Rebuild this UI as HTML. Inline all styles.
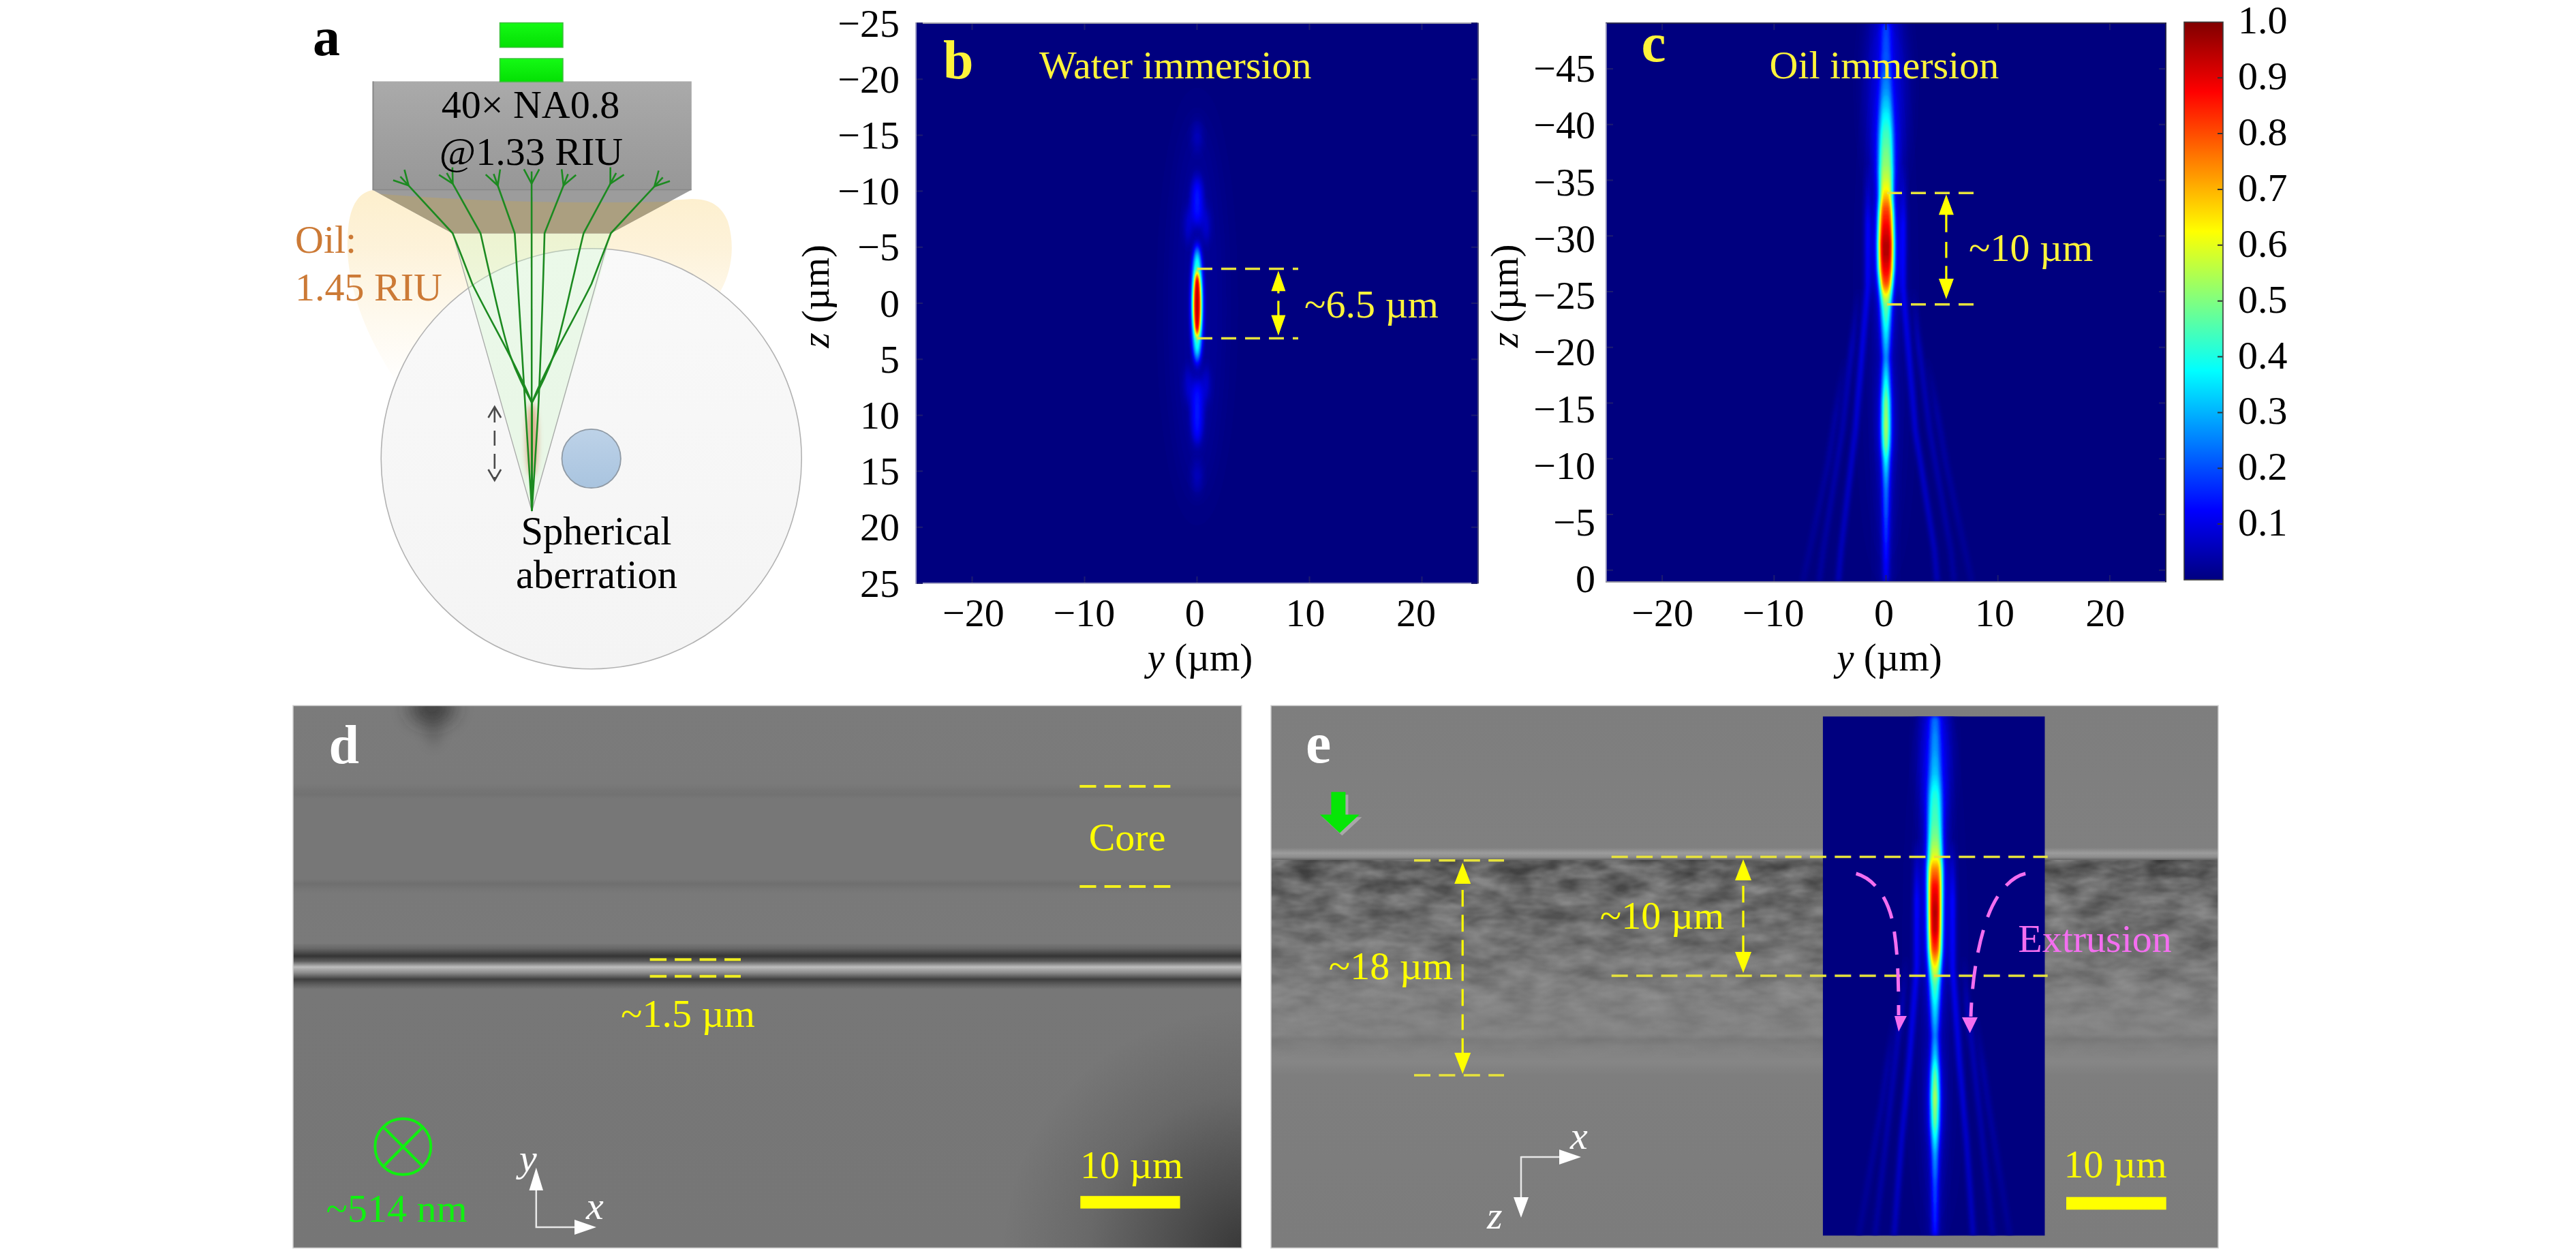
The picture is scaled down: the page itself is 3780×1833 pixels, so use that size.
<!DOCTYPE html>
<html><head><meta charset="utf-8"><title>Figure</title>
<style>html,body{margin:0;padding:0;background:#fff;width:3780px;height:1833px;overflow:hidden}svg{display:block}text{font-family:'Liberation Serif',serif}</style>
</head><body>
<svg width="3780" height="1833" viewBox="0 0 3780 1833">
<defs><linearGradient id="oilg" x1="0" y1="280" x2="0" y2="570" gradientUnits="userSpaceOnUse">
<stop offset="0" stop-color="#fdefcd" stop-opacity="1"/><stop offset="0.3" stop-color="#fdf1d6" stop-opacity="0.9"/><stop offset="0.6" stop-color="#fdf3dc" stop-opacity="0.55"/><stop offset="1" stop-color="#fdf3dc" stop-opacity="0"/></linearGradient><linearGradient id="objg" x1="0" y1="119" x2="0" y2="279" gradientUnits="userSpaceOnUse">
<stop offset="0" stop-color="#aaaaaa"/><stop offset="1" stop-color="#979797"/></linearGradient><linearGradient id="bcg" x1="0" y1="365" x2="0" y2="982" gradientUnits="userSpaceOnUse">
<stop offset="0" stop-color="#f9f9f9"/><stop offset="1" stop-color="#f4f4f4"/></linearGradient><linearGradient id="scg" x1="0" y1="630" x2="0" y2="716" gradientUnits="userSpaceOnUse">
<stop offset="0" stop-color="#bdd2e8"/><stop offset="1" stop-color="#a9c4df"/></linearGradient><linearGradient id="grg" x1="0" y1="0" x2="0" y2="1"><stop offset="0" stop-color="#14fa14"/><stop offset="1" stop-color="#04e004"/></linearGradient><filter id="blur4" x="-50%" y="-50%" width="200%" height="200%"><feGaussianBlur stdDeviation="4"/></filter><clipPath id="trapclip"><polygon points="546.6,278.5 1014.8,278.5 896,342.5 664,342.5"/></clipPath><filter id="jb" filterUnits="userSpaceOnUse" x="1344" y="34" width="825" height="822" color-interpolation-filters="sRGB"><feComponentTransfer><feFuncR type="table" tableValues="0.000 0.000 0.000 0.000 0.000 0.000 0.000 0.000 0.000 0.000 0.000 0.000 0.000 0.000 0.000 0.000 0.000 0.000 0.000 0.000 0.000 0.000 0.000 0.000 0.000 0.062 0.125 0.188 0.250 0.312 0.375 0.438 0.500 0.562 0.625 0.688 0.750 0.812 0.875 0.938 1.000 1.000 1.000 1.000 1.000 1.000 1.000 1.000 1.000 1.000 1.000 1.000 1.000 1.000 1.000 1.000 1.000 0.938 0.875 0.812 0.750 0.688 0.625 0.562 0.500"/><feFuncG type="table" tableValues="0.000 0.000 0.000 0.000 0.000 0.000 0.000 0.000 0.000 0.062 0.125 0.188 0.250 0.312 0.375 0.438 0.500 0.562 0.625 0.688 0.750 0.812 0.875 0.938 1.000 1.000 1.000 1.000 1.000 1.000 1.000 1.000 1.000 1.000 1.000 1.000 1.000 1.000 1.000 1.000 1.000 0.938 0.875 0.812 0.750 0.688 0.625 0.562 0.500 0.438 0.375 0.312 0.250 0.188 0.125 0.062 0.000 0.000 0.000 0.000 0.000 0.000 0.000 0.000 0.000"/><feFuncB type="table" tableValues="0.500 0.562 0.625 0.688 0.750 0.812 0.875 0.938 1.000 1.000 1.000 1.000 1.000 1.000 1.000 1.000 1.000 1.000 1.000 1.000 1.000 1.000 1.000 1.000 1.000 0.938 0.875 0.812 0.750 0.688 0.625 0.562 0.500 0.438 0.375 0.312 0.250 0.188 0.125 0.062 0.000 0.000 0.000 0.000 0.000 0.000 0.000 0.000 0.000 0.000 0.000 0.000 0.000 0.000 0.000 0.000 0.000 0.000 0.000 0.000 0.000 0.000 0.000 0.000 0.000"/></feComponentTransfer></filter><filter id="bl0" x="-100%" y="-100%" width="300%" height="300%" color-interpolation-filters="sRGB"><feGaussianBlur stdDeviation="15 40"/></filter><filter id="bl1" x="-100%" y="-100%" width="300%" height="300%" color-interpolation-filters="sRGB"><feGaussianBlur stdDeviation="5 10"/></filter><filter id="bl2" x="-100%" y="-100%" width="300%" height="300%" color-interpolation-filters="sRGB"><feGaussianBlur stdDeviation="4 10"/></filter><filter id="bl3" x="-100%" y="-100%" width="300%" height="300%" color-interpolation-filters="sRGB"><feGaussianBlur stdDeviation="2 6"/></filter><filter id="bl4" x="-100%" y="-100%" width="300%" height="300%" color-interpolation-filters="sRGB"><feGaussianBlur stdDeviation="3 11"/></filter><filter id="jc" filterUnits="userSpaceOnUse" x="2357" y="34" width="821" height="820" color-interpolation-filters="sRGB"><feComponentTransfer><feFuncR type="table" tableValues="0.000 0.000 0.000 0.000 0.000 0.000 0.000 0.000 0.000 0.000 0.000 0.000 0.000 0.000 0.000 0.000 0.000 0.000 0.000 0.000 0.000 0.000 0.000 0.000 0.000 0.062 0.125 0.188 0.250 0.312 0.375 0.438 0.500 0.562 0.625 0.688 0.750 0.812 0.875 0.938 1.000 1.000 1.000 1.000 1.000 1.000 1.000 1.000 1.000 1.000 1.000 1.000 1.000 1.000 1.000 1.000 1.000 0.938 0.875 0.812 0.750 0.688 0.625 0.562 0.500"/><feFuncG type="table" tableValues="0.000 0.000 0.000 0.000 0.000 0.000 0.000 0.000 0.000 0.062 0.125 0.188 0.250 0.312 0.375 0.438 0.500 0.562 0.625 0.688 0.750 0.812 0.875 0.938 1.000 1.000 1.000 1.000 1.000 1.000 1.000 1.000 1.000 1.000 1.000 1.000 1.000 1.000 1.000 1.000 1.000 0.938 0.875 0.812 0.750 0.688 0.625 0.562 0.500 0.438 0.375 0.312 0.250 0.188 0.125 0.062 0.000 0.000 0.000 0.000 0.000 0.000 0.000 0.000 0.000"/><feFuncB type="table" tableValues="0.500 0.562 0.625 0.688 0.750 0.812 0.875 0.938 1.000 1.000 1.000 1.000 1.000 1.000 1.000 1.000 1.000 1.000 1.000 1.000 1.000 1.000 1.000 1.000 1.000 0.938 0.875 0.812 0.750 0.688 0.625 0.562 0.500 0.438 0.375 0.312 0.250 0.188 0.125 0.062 0.000 0.000 0.000 0.000 0.000 0.000 0.000 0.000 0.000 0.000 0.000 0.000 0.000 0.000 0.000 0.000 0.000 0.000 0.000 0.000 0.000 0.000 0.000 0.000 0.000"/></feComponentTransfer></filter><linearGradient id="cpc" x1="0" y1="34" x2="0" y2="854" gradientUnits="userSpaceOnUse"><stop offset="0.0000" stop-color="rgb(23,23,23)"/><stop offset="0.0805" stop-color="rgb(27,27,27)"/><stop offset="0.1171" stop-color="rgb(36,36,36)"/><stop offset="0.1500" stop-color="rgb(50,50,50)"/><stop offset="0.1915" stop-color="rgb(69,69,69)"/><stop offset="0.2537" stop-color="rgb(90,90,90)"/><stop offset="0.2780" stop-color="rgb(105,105,105)"/><stop offset="0.2976" stop-color="rgb(121,121,121)"/><stop offset="0.3146" stop-color="rgb(142,142,142)"/><stop offset="0.3317" stop-color="rgb(163,163,163)"/><stop offset="0.3610" stop-color="rgb(180,180,180)"/><stop offset="0.3939" stop-color="rgb(194,194,194)"/><stop offset="0.4159" stop-color="rgb(194,194,194)"/><stop offset="0.4463" stop-color="rgb(178,178,178)"/><stop offset="0.4671" stop-color="rgb(163,163,163)"/><stop offset="0.4805" stop-color="rgb(138,138,138)"/><stop offset="0.4915" stop-color="rgb(117,117,117)"/><stop offset="0.5073" stop-color="rgb(96,96,96)"/><stop offset="0.5561" stop-color="rgb(73,73,73)"/><stop offset="0.5988" stop-color="rgb(56,56,56)"/><stop offset="0.6415" stop-color="rgb(82,82,82)"/><stop offset="0.6780" stop-color="rgb(105,105,105)"/><stop offset="0.7195" stop-color="rgb(115,115,115)"/><stop offset="0.7573" stop-color="rgb(105,105,105)"/><stop offset="0.7817" stop-color="rgb(82,82,82)"/><stop offset="0.8366" stop-color="rgb(56,56,56)"/><stop offset="0.9341" stop-color="rgb(38,38,38)"/><stop offset="1.0000" stop-color="rgb(29,29,29)"/></linearGradient><linearGradient id="lb0c" x1="0" y1="240" x2="0" y2="854" gradientUnits="userSpaceOnUse"><stop offset="0" stop-color="rgb(0,0,0)"/><stop offset="0.147" stop-color="rgb(38,38,38)"/><stop offset="1" stop-color="rgb(19,19,19)"/></linearGradient><filter id="bl5" x="-100%" y="-100%" width="300%" height="300%" color-interpolation-filters="sRGB"><feGaussianBlur stdDeviation="3 3"/></filter><linearGradient id="lb1c" x1="0" y1="240" x2="0" y2="854" gradientUnits="userSpaceOnUse"><stop offset="0" stop-color="rgb(0,0,0)"/><stop offset="0.147" stop-color="rgb(38,38,38)"/><stop offset="1" stop-color="rgb(19,19,19)"/></linearGradient><linearGradient id="lb2c" x1="0" y1="420" x2="0" y2="854" gradientUnits="userSpaceOnUse"><stop offset="0" stop-color="rgb(0,0,0)"/><stop offset="0.207" stop-color="rgb(19,19,19)"/><stop offset="1" stop-color="rgb(10,10,10)"/></linearGradient><linearGradient id="lb3c" x1="0" y1="420" x2="0" y2="854" gradientUnits="userSpaceOnUse"><stop offset="0" stop-color="rgb(0,0,0)"/><stop offset="0.207" stop-color="rgb(19,19,19)"/><stop offset="1" stop-color="rgb(10,10,10)"/></linearGradient><linearGradient id="lb4c" x1="0" y1="520" x2="0" y2="854" gradientUnits="userSpaceOnUse"><stop offset="0" stop-color="rgb(0,0,0)"/><stop offset="0.269" stop-color="rgb(11,11,11)"/><stop offset="1" stop-color="rgb(6,6,6)"/></linearGradient><linearGradient id="lb5c" x1="0" y1="520" x2="0" y2="854" gradientUnits="userSpaceOnUse"><stop offset="0" stop-color="rgb(0,0,0)"/><stop offset="0.269" stop-color="rgb(11,11,11)"/><stop offset="1" stop-color="rgb(6,6,6)"/></linearGradient><filter id="bl6" x="-100%" y="-100%" width="300%" height="300%" color-interpolation-filters="sRGB"><feGaussianBlur stdDeviation="11 25"/></filter><filter id="bl7" x="-100%" y="-100%" width="300%" height="300%" color-interpolation-filters="sRGB"><feGaussianBlur stdDeviation="6 6"/></filter><linearGradient id="cbar" x1="0" y1="0" x2="0" y2="1"><stop offset="0.000" stop-color="rgb(128,0,0)"/><stop offset="0.025" stop-color="rgb(153,0,0)"/><stop offset="0.050" stop-color="rgb(179,0,0)"/><stop offset="0.075" stop-color="rgb(204,0,0)"/><stop offset="0.100" stop-color="rgb(229,0,0)"/><stop offset="0.125" stop-color="rgb(255,0,0)"/><stop offset="0.150" stop-color="rgb(255,26,0)"/><stop offset="0.175" stop-color="rgb(255,51,0)"/><stop offset="0.200" stop-color="rgb(255,76,0)"/><stop offset="0.225" stop-color="rgb(255,102,0)"/><stop offset="0.250" stop-color="rgb(255,128,0)"/><stop offset="0.275" stop-color="rgb(255,153,0)"/><stop offset="0.300" stop-color="rgb(255,179,0)"/><stop offset="0.325" stop-color="rgb(255,204,0)"/><stop offset="0.350" stop-color="rgb(255,229,0)"/><stop offset="0.375" stop-color="rgb(255,255,0)"/><stop offset="0.400" stop-color="rgb(229,255,26)"/><stop offset="0.425" stop-color="rgb(204,255,51)"/><stop offset="0.450" stop-color="rgb(179,255,76)"/><stop offset="0.475" stop-color="rgb(153,255,102)"/><stop offset="0.500" stop-color="rgb(128,255,128)"/><stop offset="0.525" stop-color="rgb(102,255,153)"/><stop offset="0.550" stop-color="rgb(76,255,179)"/><stop offset="0.575" stop-color="rgb(51,255,204)"/><stop offset="0.600" stop-color="rgb(26,255,229)"/><stop offset="0.625" stop-color="rgb(0,255,255)"/><stop offset="0.650" stop-color="rgb(0,229,255)"/><stop offset="0.675" stop-color="rgb(0,204,255)"/><stop offset="0.700" stop-color="rgb(0,179,255)"/><stop offset="0.725" stop-color="rgb(0,153,255)"/><stop offset="0.750" stop-color="rgb(0,128,255)"/><stop offset="0.775" stop-color="rgb(0,102,255)"/><stop offset="0.800" stop-color="rgb(0,76,255)"/><stop offset="0.825" stop-color="rgb(0,51,255)"/><stop offset="0.850" stop-color="rgb(0,26,255)"/><stop offset="0.875" stop-color="rgb(0,0,255)"/><stop offset="0.900" stop-color="rgb(0,0,229)"/><stop offset="0.925" stop-color="rgb(0,0,204)"/><stop offset="0.950" stop-color="rgb(0,0,179)"/><stop offset="0.975" stop-color="rgb(0,0,153)"/><stop offset="1.000" stop-color="rgb(0,0,128)"/></linearGradient><linearGradient id="wg" x1="0" y1="1385" x2="0" y2="1452" gradientUnits="userSpaceOnUse"><stop offset="0" stop-color="#777777"/><stop offset="0.1" stop-color="#686868"/><stop offset="0.27" stop-color="#353535"/><stop offset="0.38" stop-color="#5a5a5a"/><stop offset="0.51" stop-color="#bdbdbd"/><stop offset="0.64" stop-color="#8a8a8a"/><stop offset="0.78" stop-color="#3e3e3e"/><stop offset="0.9" stop-color="#606060"/><stop offset="1" stop-color="#777"/></linearGradient><radialGradient id="vig" cx="1830" cy="1840" r="360" gradientUnits="userSpaceOnUse"><stop offset="0" stop-color="#1e1e1e" stop-opacity="0.72"/><stop offset="0.3" stop-color="#1e1e1e" stop-opacity="0.45"/><stop offset="0.65" stop-color="#1e1e1e" stop-opacity="0.15"/><stop offset="1" stop-color="#1e1e1e" stop-opacity="0"/></radialGradient><radialGradient id="smudge"><stop offset="0" stop-color="#2a2a2a" stop-opacity="0.8"/><stop offset="1" stop-color="#2a2a2a" stop-opacity="0"/></radialGradient><filter id="bl_sm" x="-100%" y="-100%" width="300%" height="300%"><feGaussianBlur stdDeviation="14 12"/></filter><filter id="bl_sm2" x="-100%" y="-100%" width="300%" height="300%"><feGaussianBlur stdDeviation="8"/></filter><clipPath id="dclip"><rect x="430" y="1036" width="1392" height="795"/></clipPath><linearGradient id="dbg" x1="0" y1="1036" x2="0" y2="1831" gradientUnits="userSpaceOnUse"><stop offset="0.0000" stop-color="#7b7b7b"/><stop offset="0.1434" stop-color="#7a7a7a"/><stop offset="0.1560" stop-color="#747474"/><stop offset="0.1635" stop-color="#727272"/><stop offset="0.1711" stop-color="#777777"/><stop offset="0.3195" stop-color="#777777"/><stop offset="0.3283" stop-color="#6f6f6f"/><stop offset="0.3371" stop-color="#757575"/><stop offset="0.3472" stop-color="#797979"/><stop offset="0.4390" stop-color="#7a7a7a"/><stop offset="0.5233" stop-color="#777777"/><stop offset="1.0000" stop-color="#767676"/></linearGradient><clipPath id="eclip"><rect x="1865" y="1036" width="1390" height="795"/></clipPath><linearGradient id="eg" x1="0" y1="1036" x2="0" y2="1831" gradientUnits="userSpaceOnUse"><stop offset="0.0000" stop-color="#7e7e7e"/><stop offset="0.2616" stop-color="#808080"/><stop offset="0.2717" stop-color="#9c9c9c"/><stop offset="0.2792" stop-color="#8c8c8c"/><stop offset="0.2855" stop-color="#5c5c5c"/><stop offset="0.3006" stop-color="#5e5e5e"/><stop offset="0.3195" stop-color="#666666"/><stop offset="0.3698" stop-color="#6d6d6d"/><stop offset="0.4327" stop-color="#727272"/><stop offset="0.4956" stop-color="#7a7a7a"/><stop offset="0.5333" stop-color="#818181"/><stop offset="0.6063" stop-color="#838383"/><stop offset="0.6164" stop-color="#7a7a7a"/><stop offset="0.6289" stop-color="#808080"/><stop offset="0.6566" stop-color="#868686"/><stop offset="0.6818" stop-color="#7e7e7e"/><stop offset="1.0000" stop-color="#7c7c7c"/></linearGradient><filter id="tex" x="0" y="0" width="1" height="1" color-interpolation-filters="sRGB"><feTurbulence type="fractalNoise" baseFrequency="0.02 0.045" numOctaves="3" seed="5"/><feColorMatrix type="matrix" values="1.5 0 0 0 -0.25  1.5 0 0 0 -0.25  1.5 0 0 0 -0.25  0 0 0 0 1"/></filter><linearGradient id="texfade" x1="0" y1="1262" x2="0" y2="1560" gradientUnits="userSpaceOnUse"><stop offset="0" stop-color="#fff" stop-opacity="1"/><stop offset="0.5" stop-color="#fff" stop-opacity="0.6"/><stop offset="1" stop-color="#fff" stop-opacity="0"/></linearGradient><mask id="texmask"><rect x="1865" y="1262" width="1390" height="300" fill="url(#texfade)"/></mask><filter id="je" filterUnits="userSpaceOnUse" x="2674.7" y="1051.3" width="326.0" height="762.3" color-interpolation-filters="sRGB"><feComponentTransfer><feFuncR type="table" tableValues="0.000 0.000 0.000 0.000 0.000 0.000 0.000 0.000 0.000 0.000 0.000 0.000 0.000 0.000 0.000 0.000 0.000 0.000 0.000 0.000 0.000 0.000 0.000 0.000 0.000 0.062 0.125 0.188 0.250 0.312 0.375 0.438 0.500 0.562 0.625 0.688 0.750 0.812 0.875 0.938 1.000 1.000 1.000 1.000 1.000 1.000 1.000 1.000 1.000 1.000 1.000 1.000 1.000 1.000 1.000 1.000 1.000 0.938 0.875 0.812 0.750 0.688 0.625 0.562 0.500"/><feFuncG type="table" tableValues="0.000 0.000 0.000 0.000 0.000 0.000 0.000 0.000 0.000 0.062 0.125 0.188 0.250 0.312 0.375 0.438 0.500 0.562 0.625 0.688 0.750 0.812 0.875 0.938 1.000 1.000 1.000 1.000 1.000 1.000 1.000 1.000 1.000 1.000 1.000 1.000 1.000 1.000 1.000 1.000 1.000 0.938 0.875 0.812 0.750 0.688 0.625 0.562 0.500 0.438 0.375 0.312 0.250 0.188 0.125 0.062 0.000 0.000 0.000 0.000 0.000 0.000 0.000 0.000 0.000"/><feFuncB type="table" tableValues="0.500 0.562 0.625 0.688 0.750 0.812 0.875 0.938 1.000 1.000 1.000 1.000 1.000 1.000 1.000 1.000 1.000 1.000 1.000 1.000 1.000 1.000 1.000 1.000 1.000 0.938 0.875 0.812 0.750 0.688 0.625 0.562 0.500 0.438 0.375 0.312 0.250 0.188 0.125 0.062 0.000 0.000 0.000 0.000 0.000 0.000 0.000 0.000 0.000 0.000 0.000 0.000 0.000 0.000 0.000 0.000 0.000 0.000 0.000 0.000 0.000 0.000 0.000 0.000 0.000"/></feComponentTransfer></filter><clipPath id="iclip"><rect x="2674.7" y="1051.3" width="326.0" height="762.3"/></clipPath><linearGradient id="cpe" x1="0" y1="1051" x2="0" y2="1814" gradientUnits="userSpaceOnUse"><stop offset="0.0000" stop-color="rgb(29,29,29)"/><stop offset="0.0642" stop-color="rgb(36,36,36)"/><stop offset="0.1101" stop-color="rgb(44,44,44)"/><stop offset="0.1507" stop-color="rgb(63,63,63)"/><stop offset="0.2005" stop-color="rgb(77,77,77)"/><stop offset="0.2346" stop-color="rgb(96,96,96)"/><stop offset="0.2713" stop-color="rgb(121,121,121)"/><stop offset="0.2923" stop-color="rgb(150,150,150)"/><stop offset="0.3263" stop-color="rgb(178,178,178)"/><stop offset="0.3748" stop-color="rgb(194,194,194)"/><stop offset="0.4115" stop-color="rgb(190,190,190)"/><stop offset="0.4495" stop-color="rgb(167,167,167)"/><stop offset="0.4836" stop-color="rgb(125,125,125)"/><stop offset="0.5151" stop-color="rgb(92,92,92)"/><stop offset="0.5623" stop-color="rgb(71,71,71)"/><stop offset="0.6147" stop-color="rgb(54,54,54)"/><stop offset="0.6540" stop-color="rgb(71,71,71)"/><stop offset="0.6894" stop-color="rgb(100,100,100)"/><stop offset="0.7353" stop-color="rgb(117,117,117)"/><stop offset="0.7811" stop-color="rgb(100,100,100)"/><stop offset="0.8113" stop-color="rgb(82,82,82)"/><stop offset="0.8388" stop-color="rgb(67,67,67)"/><stop offset="0.9030" stop-color="rgb(48,48,48)"/><stop offset="1.0000" stop-color="rgb(38,38,38)"/></linearGradient><linearGradient id="lb0e" x1="0" y1="1230" x2="0" y2="1814" gradientUnits="userSpaceOnUse"><stop offset="0" stop-color="rgb(0,0,0)"/><stop offset="0.154" stop-color="rgb(41,41,41)"/><stop offset="1" stop-color="rgb(20,20,20)"/></linearGradient><linearGradient id="lb1e" x1="0" y1="1230" x2="0" y2="1814" gradientUnits="userSpaceOnUse"><stop offset="0" stop-color="rgb(0,0,0)"/><stop offset="0.154" stop-color="rgb(41,41,41)"/><stop offset="1" stop-color="rgb(20,20,20)"/></linearGradient><linearGradient id="lb2e" x1="0" y1="1400" x2="0" y2="1814" gradientUnits="userSpaceOnUse"><stop offset="0" stop-color="rgb(0,0,0)"/><stop offset="0.217" stop-color="rgb(19,19,19)"/><stop offset="1" stop-color="rgb(10,10,10)"/></linearGradient><linearGradient id="lb3e" x1="0" y1="1400" x2="0" y2="1814" gradientUnits="userSpaceOnUse"><stop offset="0" stop-color="rgb(0,0,0)"/><stop offset="0.217" stop-color="rgb(19,19,19)"/><stop offset="1" stop-color="rgb(10,10,10)"/></linearGradient><linearGradient id="lb4e" x1="0" y1="1480" x2="0" y2="1814" gradientUnits="userSpaceOnUse"><stop offset="0" stop-color="rgb(0,0,0)"/><stop offset="0.269" stop-color="rgb(11,11,11)"/><stop offset="1" stop-color="rgb(6,6,6)"/></linearGradient><linearGradient id="lb5e" x1="0" y1="1480" x2="0" y2="1814" gradientUnits="userSpaceOnUse"><stop offset="0" stop-color="rgb(0,0,0)"/><stop offset="0.269" stop-color="rgb(11,11,11)"/><stop offset="1" stop-color="rgb(6,6,6)"/></linearGradient><filter id="bl8" x="-100%" y="-100%" width="300%" height="300%" color-interpolation-filters="sRGB"><feGaussianBlur stdDeviation="9 25"/></filter></defs>
<path d="M548,279 C528,281 514,300 511,335 C505,390 520,470 585,565 L1040,450 C1070,420 1082,370 1068,325 C1058,300 1040,292 1015,292 C900,300 700,298 548,279 Z" fill="url(#oilg)"/>
<circle cx="867.7" cy="673.2" r="308.5" fill="url(#bcg)" stroke="#b2b2b2" stroke-width="1.6"/>
<polygon points="663.5,342.5 898.5,342.5 780.5,750" fill="rgb(205,248,198)" fill-opacity="0.32"/>
<path d="M665.5,346 L780.5,750 L892,355" fill="none" stroke="#a8a8a8" stroke-width="1.3"/>
<circle cx="867.7" cy="673" r="43.2" fill="url(#scg)" stroke="#8f9aa5" stroke-width="1.8"/>
<rect x="546.6" y="119.4" width="468.2" height="159.1" fill="url(#objg)"/>
<line x1="547.6" y1="119.4" x2="547.6" y2="278.5" stroke="#8a8a8a" stroke-width="2"/>
<polygon points="546.6,278.5 1014.8,278.5 896,342.5 664,342.5" fill="#9c9c9c"/>
<path clip-path="url(#trapclip)" d="M530,282 C700,298 900,300 1030,294 L1030,350 L530,350 Z" fill="#ab9f80"/>
<line x1="546.6" y1="278.5" x2="1014.8" y2="278.5" stroke="#888" stroke-width="1.6"/>
<rect x="733.5" y="33.5" width="92.5" height="36" fill="url(#grg)" stroke="#3cbf3c" stroke-width="1.5"/>
<rect x="733.5" y="86" width="92.5" height="34" fill="url(#grg)" stroke="#3cbf3c" stroke-width="1.5"/>
<ellipse cx="780.5" cy="646" rx="8.5" ry="54" fill="#d99e78" opacity="0.85" filter="url(#blur4)"/>
<path d="M599.6,272.3 L664.2,342.3 C676,372 686,398 693,416.5 C712,455 732,490 747,520 C760,545 772,570 780.5,591 L780.5,750" fill="none" stroke="#1c8a20" stroke-width="2.6"/>
<path d="M664.4,269.6 L705.1,342.3 C711,368 716,392 722,416.5 C730,452 738,488 748,520 C758,548 770,572 780.5,591 L780.5,750" fill="none" stroke="#1c8a20" stroke-width="2.6"/>
<path d="M730.4,272.3 L755.3,342.3 C762,450 768,560 772,616 L780.5,750" fill="none" stroke="#1c8a20" stroke-width="2.6"/>
<path d="M780.1,269.6 L780.3,750" fill="none" stroke="#1c8a20" stroke-width="2.6"/>
<path d="M826.9,272.3 L799.1,342.3 C796,450 792,560 789,616 L780.5,750" fill="none" stroke="#1c8a20" stroke-width="2.6"/>
<path d="M895.6,269.6 L856.4,342.3 C850,368 845,392 839,416.5 C831,452 823,488 813,520 C803,548 791,572 780.5,591 L780.5,750" fill="none" stroke="#1c8a20" stroke-width="2.6"/>
<path d="M960.3,273.6 L896.4,342.3 C885,372 875,398 868,416.5 C849,455 829,490 814,520 C801,545 789,570 780.5,591 L780.5,750" fill="none" stroke="#1c8a20" stroke-width="2.6"/>
<path d="M576.9,264.4 L599.6,272.3 L593.5,249.1" fill="none" stroke="#1c8a20" stroke-width="2.6"/>
<line x1="599.6" y1="272.3" x2="587.4" y2="259.1" stroke="#1c8a20" stroke-width="2.6"/>
<path d="M644.2,256.6 L664.4,269.6 L663.9,245.6" fill="none" stroke="#1c8a20" stroke-width="2.6"/>
<line x1="664.4" y1="269.6" x2="655.6" y2="253.9" stroke="#1c8a20" stroke-width="2.6"/>
<path d="M712.7,256.1 L730.4,272.3 L733.9,248.6" fill="none" stroke="#1c8a20" stroke-width="2.6"/>
<line x1="730.4" y1="272.3" x2="724.4" y2="255.3" stroke="#1c8a20" stroke-width="2.6"/>
<path d="M768.8,248.4 L780.1,269.6 L791.3,248.4" fill="none" stroke="#1c8a20" stroke-width="2.6"/>
<line x1="780.1" y1="269.6" x2="780.1" y2="251.6" stroke="#1c8a20" stroke-width="2.6"/>
<path d="M824.2,248.4 L826.9,272.3 L845.2,256.8" fill="none" stroke="#1c8a20" stroke-width="2.6"/>
<line x1="826.9" y1="272.3" x2="833.5" y2="255.6" stroke="#1c8a20" stroke-width="2.6"/>
<path d="M895.7,245.6 L895.6,269.6 L915.6,256.3" fill="none" stroke="#1c8a20" stroke-width="2.6"/>
<line x1="895.6" y1="269.6" x2="904.1" y2="253.8" stroke="#1c8a20" stroke-width="2.6"/>
<path d="M966.5,250.4 L960.3,273.6 L983.0,265.8" fill="none" stroke="#1c8a20" stroke-width="2.6"/>
<line x1="960.3" y1="273.6" x2="972.6" y2="260.4" stroke="#1c8a20" stroke-width="2.6"/>
<line x1="725.8" y1="598" x2="725.8" y2="704" stroke="#4a4a4a" stroke-width="2.6" stroke-dasharray="22,12"/>
<path d="M716.5,613 L725.8,597 L735.1,613 M716.5,689 L725.8,705 L735.1,689" fill="none" stroke="#4a4a4a" stroke-width="2.6"/>
<text x="778.5" y="173" font-size="58" fill="#000" text-anchor="middle" >40× NA0.8</text>
<text x="779.5" y="242" font-size="58" fill="#000" text-anchor="middle" >@1.33 RIU</text>
<text x="875" y="798.5" font-size="58.5" fill="#000" text-anchor="middle" >Spherical</text>
<text x="875.5" y="863" font-size="58.5" fill="#000" text-anchor="middle" >aberration</text>
<text x="433" y="371" font-size="58" fill="#cc7a36" text-anchor="start" >Oil:</text>
<text x="433" y="441" font-size="58" fill="#cc7a36" text-anchor="start" >1.45 RIU</text>
<text x="459" y="81" font-size="80" fill="#000" text-anchor="start" font-weight="bold">a</text>
<g filter="url(#jb)"><rect x="1344" y="34" width="825" height="822" fill="#000"/>
<ellipse cx="1756.7" cy="450" rx="40" ry="280" fill="rgb(6,6,6)" filter="url(#bl0)" style="mix-blend-mode:plus-lighter"/>
<ellipse cx="1756.7" cy="200" rx="7" ry="20" fill="rgb(13,13,13)" filter="url(#bl1)" style="mix-blend-mode:plus-lighter"/>
<ellipse cx="1756.7" cy="296" rx="8" ry="36" fill="rgb(33,33,33)" filter="url(#bl2)" style="mix-blend-mode:plus-lighter"/>
<ellipse cx="1743.7" cy="330" rx="5" ry="25" fill="rgb(18,18,18)" filter="url(#bl2)" style="mix-blend-mode:plus-lighter"/>
<ellipse cx="1769.7" cy="330" rx="5" ry="25" fill="rgb(18,18,18)" filter="url(#bl2)" style="mix-blend-mode:plus-lighter"/>
<ellipse cx="1743.7" cy="565" rx="5" ry="25" fill="rgb(18,18,18)" filter="url(#bl2)" style="mix-blend-mode:plus-lighter"/>
<ellipse cx="1769.7" cy="565" rx="5" ry="25" fill="rgb(18,18,18)" filter="url(#bl2)" style="mix-blend-mode:plus-lighter"/>
<ellipse cx="1756.7" cy="604" rx="8" ry="48" fill="rgb(33,33,33)" filter="url(#bl2)" style="mix-blend-mode:plus-lighter"/>
<ellipse cx="1756.7" cy="700" rx="7" ry="22" fill="rgb(13,13,13)" filter="url(#bl1)" style="mix-blend-mode:plus-lighter"/>
<ellipse cx="1756.7" cy="446.5" rx="5.5" ry="47" fill="rgb(128,128,128)" filter="url(#bl3)" style="mix-blend-mode:plus-lighter"/>
<ellipse cx="1756.7" cy="446.5" rx="8" ry="84" fill="rgb(107,107,107)" filter="url(#bl4)" style="mix-blend-mode:plus-lighter"/>
</g>
<path d="M1343,34H2170" stroke="#9c9ca8" stroke-width="2"/><path d="M1344,34V856" stroke="#a4a4c8" stroke-width="2"/><path d="M1343,856H2170" stroke="#a4a4c4" stroke-width="2"/><path d="M2169,34V856" stroke="#4a4a7a" stroke-width="2"/>
<g filter="url(#jc)"><rect x="2357" y="34" width="821" height="820" fill="#000"/>
<path d="M2740.5,240.0 L2740.5,420.0 L2722.5,631.0 L2701.5,807.0 L2697.5,854.0" fill="none" stroke="url(#lb0c)" stroke-width="6" stroke-linejoin="round" filter="url(#bl5)" style="mix-blend-mode:plus-lighter"/>
<path d="M2793.5,240.0 L2792.5,420.0 L2810.5,631.0 L2838.5,807.0 L2842.5,854.0" fill="none" stroke="url(#lb1c)" stroke-width="6" stroke-linejoin="round" filter="url(#bl5)" style="mix-blend-mode:plus-lighter"/>
<path d="M2727.5,420.0 L2719.5,490.0 L2703.5,631.0 L2675.5,807.0 L2669.5,854.0" fill="none" stroke="url(#lb2c)" stroke-width="6" stroke-linejoin="round" filter="url(#bl5)" style="mix-blend-mode:plus-lighter"/>
<path d="M2807.5,420.0 L2813.5,490.0 L2831.5,631.0 L2862.5,807.0 L2867.5,854.0" fill="none" stroke="url(#lb3c)" stroke-width="6" stroke-linejoin="round" filter="url(#bl5)" style="mix-blend-mode:plus-lighter"/>
<path d="M2707.5,520.0 L2682.5,680.0 L2645.5,854.0" fill="none" stroke="url(#lb4c)" stroke-width="7" stroke-linejoin="round" filter="url(#bl5)" style="mix-blend-mode:plus-lighter"/>
<path d="M2827.5,520.0 L2855.5,680.0 L2893.5,854.0" fill="none" stroke="url(#lb5c)" stroke-width="7" stroke-linejoin="round" filter="url(#bl5)" style="mix-blend-mode:plus-lighter"/>
<ellipse cx="2767.5" cy="130" rx="28" ry="150" fill="rgb(20,20,20)" filter="url(#bl6)" style="mix-blend-mode:plus-lighter"/>
<ellipse cx="2767.5" cy="450" rx="30" ry="380" fill="rgb(5,5,5)" filter="url(#bl0)" style="mix-blend-mode:plus-lighter"/>
<path d="M2761.5,34 L2760.5,100 L2759.0,157 L2758.0,200 L2757.5,250 L2758.5,290 L2757.5,320 L2757.0,357 L2757.5,395 L2759.5,425 L2760.5,450 L2763.0,525 L2762.0,590 L2762.0,640 L2763.5,700 L2764.5,854 L2770.5,854 L2771.5,700 L2773.0,640 L2773.0,590 L2772.0,525 L2774.5,450 L2775.5,425 L2777.5,395 L2778.0,357 L2777.5,320 L2776.5,290 L2777.5,250 L2777.0,200 L2776.0,157 L2774.5,100 L2773.5,34 Z" fill="url(#cpc)" filter="url(#bl5)" style="mix-blend-mode:plus-lighter"/>
<path d="M2754.5,34 L2753.5,100 L2752.0,157 L2751.0,200 L2750.5,250 L2751.5,290 L2750.5,320 L2750.0,357 L2750.5,395 L2752.5,425 L2753.5,450 L2756.0,525 L2755.0,590 L2755.0,640 L2756.5,700 L2757.5,854 L2777.5,854 L2778.5,700 L2780.0,640 L2780.0,590 L2779.0,525 L2781.5,450 L2782.5,425 L2784.5,395 L2785.0,357 L2784.5,320 L2783.5,290 L2784.5,250 L2784.0,200 L2783.0,157 L2781.5,100 L2780.5,34 Z" fill="url(#cpc)" opacity="0.22" filter="url(#bl7)" style="mix-blend-mode:plus-lighter"/>
</g>
<path d="M2356,34H3179" stroke="#2a2a50" stroke-width="2"/><path d="M2357,34V854" stroke="#8c8cb8" stroke-width="2"/><path d="M2356,854H3179" stroke="#8e8e9e" stroke-width="2"/><path d="M3178,34V854" stroke="#22224a" stroke-width="2"/>
<rect x="3205" y="32.4" width="57" height="818.6" fill="url(#cbar)" stroke="#3a3a3a" stroke-width="1.6"/>
<text x="1320.0" y="53.5" font-size="58" fill="#000" text-anchor="end" >−25</text>
<text x="1320.0" y="135.7" font-size="58" fill="#000" text-anchor="end" >−20</text>
<text x="1320.0" y="217.9" font-size="58" fill="#000" text-anchor="end" >−15</text>
<text x="1320.0" y="300.1" font-size="58" fill="#000" text-anchor="end" >−10</text>
<text x="1320.0" y="382.3" font-size="58" fill="#000" text-anchor="end" >−5</text>
<text x="1320.0" y="464.5" font-size="58" fill="#000" text-anchor="end" >0</text>
<text x="1320.0" y="546.7" font-size="58" fill="#000" text-anchor="end" >5</text>
<text x="1320.0" y="628.9" font-size="58" fill="#000" text-anchor="end" >10</text>
<text x="1320.0" y="711.1" font-size="58" fill="#000" text-anchor="end" >15</text>
<text x="1320.0" y="793.3" font-size="58" fill="#000" text-anchor="end" >20</text>
<text x="1320.0" y="875.5" font-size="58" fill="#000" text-anchor="end" >25</text>
<text x="1428.4" y="918.8" font-size="58" fill="#000" text-anchor="middle" >−20</text>
<text x="1590.8" y="918.8" font-size="58" fill="#000" text-anchor="middle" >−10</text>
<text x="1753.2" y="918.8" font-size="58" fill="#000" text-anchor="middle" >0</text>
<text x="1915.6" y="918.8" font-size="58" fill="#000" text-anchor="middle" >10</text>
<text x="2078.0" y="918.8" font-size="58" fill="#000" text-anchor="middle" >20</text>
<text x="2341.0" y="120.2" font-size="58" fill="#000" text-anchor="end" >−45</text>
<text x="2341.0" y="203.4" font-size="58" fill="#000" text-anchor="end" >−40</text>
<text x="2341.0" y="286.7" font-size="58" fill="#000" text-anchor="end" >−35</text>
<text x="2341.0" y="369.9" font-size="58" fill="#000" text-anchor="end" >−30</text>
<text x="2341.0" y="453.2" font-size="58" fill="#000" text-anchor="end" >−25</text>
<text x="2341.0" y="536.4" font-size="58" fill="#000" text-anchor="end" >−20</text>
<text x="2341.0" y="619.6" font-size="58" fill="#000" text-anchor="end" >−15</text>
<text x="2341.0" y="702.9" font-size="58" fill="#000" text-anchor="end" >−10</text>
<text x="2341.0" y="786.1" font-size="58" fill="#000" text-anchor="end" >−5</text>
<text x="2341.0" y="869.4" font-size="58" fill="#000" text-anchor="end" >0</text>
<text x="2439.7" y="918.8" font-size="58" fill="#000" text-anchor="middle" >−20</text>
<text x="2602.1" y="918.8" font-size="58" fill="#000" text-anchor="middle" >−10</text>
<text x="2764.5" y="918.8" font-size="58" fill="#000" text-anchor="middle" >0</text>
<text x="2926.9" y="918.8" font-size="58" fill="#000" text-anchor="middle" >10</text>
<text x="3089.3" y="918.8" font-size="58" fill="#000" text-anchor="middle" >20</text>
<text x="1761" y="983.5" font-size="57" text-anchor="middle"><tspan font-style="italic">y</tspan> (µm)</text>
<text x="2772.5" y="983.5" font-size="57" text-anchor="middle"><tspan font-style="italic">y</tspan> (µm)</text>
<text transform="translate(1216,434.8) rotate(-90)" font-size="57" text-anchor="middle"><tspan font-style="italic">z</tspan> (µm)</text>
<text transform="translate(2227,434.3) rotate(-90)" font-size="57" text-anchor="middle"><tspan font-style="italic">z</tspan> (µm)</text>
<text x="3284.0" y="49.4" font-size="58" fill="#000" text-anchor="start" >1.0</text>
<text x="3284.0" y="131.3" font-size="58" fill="#000" text-anchor="start" >0.9</text>
<text x="3284.0" y="213.1" font-size="58" fill="#000" text-anchor="start" >0.8</text>
<text x="3284.0" y="295.0" font-size="58" fill="#000" text-anchor="start" >0.7</text>
<text x="3284.0" y="376.8" font-size="58" fill="#000" text-anchor="start" >0.6</text>
<text x="3284.0" y="458.7" font-size="58" fill="#000" text-anchor="start" >0.5</text>
<text x="3284.0" y="540.6" font-size="58" fill="#000" text-anchor="start" >0.4</text>
<text x="3284.0" y="622.4" font-size="58" fill="#000" text-anchor="start" >0.3</text>
<text x="3284.0" y="704.3" font-size="58" fill="#000" text-anchor="start" >0.2</text>
<text x="3284.0" y="786.1" font-size="58" fill="#000" text-anchor="start" >0.1</text>
<path d="M1345,34.0h9M2168,34.0h-9M1345,116.2h9M2168,116.2h-9M1345,198.4h9M2168,198.4h-9M1345,280.6h9M2168,280.6h-9M1345,362.8h9M2168,362.8h-9M1345,445.0h9M2168,445.0h-9M1345,527.2h9M2168,527.2h-9M1345,609.4h9M2168,609.4h-9M1345,691.6h9M2168,691.6h-9M1345,773.8h9M2168,773.8h-9M1345,856.0h9M2168,856.0h-9M1426.5,855v-9M1426.5,35v9M1591.5,855v-9M1591.5,35v9M1756.5,855v-9M1756.5,35v9M1921.5,855v-9M1921.5,35v9M2086.5,855v-9M2086.5,35v9M2358,836.8h9M3177,836.8h-9M2358,755.0h9M3177,755.0h-9M2358,673.3h9M3177,673.3h-9M2358,591.5h9M3177,591.5h-9M2358,509.8h9M3177,509.8h-9M2358,428.0h9M3177,428.0h-9M2358,346.3h9M3177,346.3h-9M2358,264.5h9M3177,264.5h-9M2358,182.8h9M3177,182.8h-9M2358,101.0h9M3177,101.0h-9M2439.1,853v-9M2439.1,35v9M2603.3,853v-9M2603.3,35v9M2767.5,853v-9M2767.5,35v9M2931.7,853v-9M2931.7,35v9M3095.9,853v-9M3095.9,35v9" stroke="#1c1c70" stroke-width="2" fill="none"/>
<path d="M3261,114.3h-7M3261,196.1h-7M3261,278.0h-7M3261,359.8h-7M3261,441.7h-7M3261,523.6h-7M3261,605.4h-7M3261,687.3h-7M3261,769.1h-7" stroke="#333" stroke-width="2" fill="none"/>
<text x="1384" y="115" font-size="80" font-weight="bold" fill="#fff43a">b</text>
<text x="1525" y="115.3" font-size="58" fill="#fff43a">Water immersion</text>
<path d="M1757,394.4H1905M1757,496.5H1905" stroke="#e6e23c" stroke-width="3.5" stroke-dasharray="22,13" fill="none"/>
<path d="M1865.4,427.2 L1875.9,397.2 L1886.4,427.2 Z M1865.4,462.4 L1875.9,492.4 L1886.4,462.4 Z" fill="#ffff00"/>
<path d="M1875.9,426V430.5M1875.9,441.4V463" stroke="#ffff00" stroke-width="3.2" fill="none"/>
<text x="1914" y="465.9" font-size="58" fill="#fff43a">~6.5 µm</text>
<text x="2408.5" y="89.5" font-size="81" font-weight="bold" fill="#fff43a">c</text>
<text x="2596.5" y="115.3" font-size="58" fill="#fff43a">Oil immersion</text>
<path d="M2769,283.2H2899M2769,446.8H2899" stroke="#e6e23c" stroke-width="3.5" stroke-dasharray="22,13" fill="none"/>
<path d="M2844.9,315.2 L2855.9,285.2 L2866.9,315.2 Z M2844.9,409 L2855.9,439 L2866.9,409 Z" fill="#ffff00"/>
<path d="M2855.9,315V340.7M2855.9,355V378.5M2855.9,390.3V409" stroke="#ffff00" stroke-width="3.2" fill="none"/>
<text x="2889" y="383" font-size="58" fill="#fff43a">~10 µm</text>
<g clip-path="url(#dclip)">
<rect x="430" y="1036" width="1392" height="795" fill="url(#dbg)"/>
<rect x="430" y="1385" width="1392" height="67" fill="url(#wg)"/>
<ellipse cx="634" cy="1040" rx="32" ry="24" fill="#2a2a2a" opacity="0.7" filter="url(#bl_sm)"/>
<ellipse cx="636" cy="1072" rx="14" ry="24" fill="#2a2a2a" opacity="0.18" filter="url(#bl_sm2)"/>
<rect x="1200" y="1300" width="640" height="540" fill="url(#vig)"/>
</g>
<rect x="430" y="1035.5" width="1392" height="796" fill="none" stroke="#cfcfcf" stroke-width="1.5"/>
<text x="482.5" y="1120" font-size="80" font-weight="bold" fill="#fff">d</text>
<path d="M1584.3,1154H1718M1584.3,1301H1718" stroke="#f2ef1e" stroke-width="3.8" stroke-dasharray="24.2,12.1" fill="none"/>
<text x="1654" y="1248" font-size="58" fill="#ffff00" text-anchor="middle">Core</text>
<path d="M953.6,1408.2H1087M953.6,1432.8H1087" stroke="#f0ee20" stroke-width="4" stroke-dasharray="24.5,12" fill="none"/>
<text x="1009.5" y="1507" font-size="58" fill="#ffff00" text-anchor="middle">~1.5 µm</text>
<circle cx="591.3" cy="1682.8" r="41" fill="none" stroke="#10f010" stroke-width="4"/>
<path d="M564,1655.5L619,1710.5M619,1655.5L564,1710.5" stroke="#10f010" stroke-width="4"/>
<text x="582" y="1793" font-size="58" fill="#10f010" text-anchor="middle">~514 nm</text>
<text x="1660.5" y="1728.5" font-size="58" fill="#ffff00" text-anchor="middle">10 µm</text>
<rect x="1585.3" y="1755.2" width="146.3" height="18.4" fill="#ffff00"/>
<path d="M786.8,1801 V1745 M785.6,1801 H845" stroke="#e8e8e8" stroke-width="2.5" fill="none"/>
<path d="M776.5,1747 L786.8,1713.5 L797,1747 Z M843,1790 L875,1801 L843,1812 Z" fill="#fff"/>
<text x="762" y="1719" font-size="58" fill="#fff" font-style="italic">y</text>
<text x="860" y="1789" font-size="58" fill="#fff" font-style="italic">x</text>
<g clip-path="url(#eclip)">
<rect x="1865" y="1036" width="1390" height="795" fill="url(#eg)"/>
<g mask="url(#texmask)" style="mix-blend-mode:soft-light"><rect x="1865" y="1262" width="1390" height="300" filter="url(#tex)" opacity="0.6"/></g>
</g>
<rect x="1865" y="1035.5" width="1390" height="796" fill="none" stroke="#cfcfcf" stroke-width="1.5"/>
<g clip-path="url(#iclip)"><g filter="url(#je)"><rect x="2674.7" y="1051.3" width="326.0" height="762.3" fill="#000"/>
<path d="M2812.4,1230.0 L2812.4,1420.0 L2801.4,1560.0 L2790.4,1672.0 L2779.4,1814.0" fill="none" stroke="url(#lb0e)" stroke-width="6" stroke-linejoin="round" filter="url(#bl5)" style="mix-blend-mode:plus-lighter"/>
<path d="M2865.4,1230.0 L2865.4,1420.0 L2875.4,1560.0 L2885.4,1672.0 L2895.4,1814.0" fill="none" stroke="url(#lb1e)" stroke-width="6" stroke-linejoin="round" filter="url(#bl5)" style="mix-blend-mode:plus-lighter"/>
<path d="M2797.4,1400.0 L2791.4,1470.0 L2771.4,1640.0 L2751.4,1814.0" fill="none" stroke="url(#lb2e)" stroke-width="6" stroke-linejoin="round" filter="url(#bl5)" style="mix-blend-mode:plus-lighter"/>
<path d="M2881.4,1400.0 L2886.4,1470.0 L2905.4,1640.0 L2924.4,1814.0" fill="none" stroke="url(#lb3e)" stroke-width="6" stroke-linejoin="round" filter="url(#bl5)" style="mix-blend-mode:plus-lighter"/>
<path d="M2781.4,1480.0 L2761.4,1620.0 L2727.4,1814.0" fill="none" stroke="url(#lb4e)" stroke-width="7" stroke-linejoin="round" filter="url(#bl5)" style="mix-blend-mode:plus-lighter"/>
<path d="M2897.4,1480.0 L2917.4,1620.0 L2949.4,1814.0" fill="none" stroke="url(#lb5e)" stroke-width="7" stroke-linejoin="round" filter="url(#bl5)" style="mix-blend-mode:plus-lighter"/>
<ellipse cx="2839.4" cy="1110" rx="22" ry="110" fill="rgb(23,23,23)" filter="url(#bl8)" style="mix-blend-mode:plus-lighter"/>
<ellipse cx="2839.4" cy="1420" rx="30" ry="380" fill="rgb(5,5,5)" filter="url(#bl0)" style="mix-blend-mode:plus-lighter"/>
<path d="M2833.4,1051 L2831.9,1120 L2829.9,1200 L2829.4,1274 L2830.4,1337 L2830.9,1394 L2832.4,1444 L2834.9,1520 L2833.9,1600 L2833.9,1650 L2835.4,1700 L2836.4,1814 L2842.4,1814 L2843.4,1700 L2844.9,1650 L2844.9,1600 L2843.9,1520 L2846.4,1444 L2847.9,1394 L2848.4,1337 L2849.4,1274 L2848.9,1200 L2846.9,1120 L2845.4,1051 Z" fill="url(#cpe)" filter="url(#bl5)" style="mix-blend-mode:plus-lighter"/>
<path d="M2826.4,1051 L2824.9,1120 L2822.9,1200 L2822.4,1274 L2823.4,1337 L2823.9,1394 L2825.4,1444 L2827.9,1520 L2826.9,1600 L2826.9,1650 L2828.4,1700 L2829.4,1814 L2849.4,1814 L2850.4,1700 L2851.9,1650 L2851.9,1600 L2850.9,1520 L2853.4,1444 L2854.9,1394 L2855.4,1337 L2856.4,1274 L2855.9,1200 L2853.9,1120 L2852.4,1051 Z" fill="url(#cpe)" opacity="0.22" filter="url(#bl7)" style="mix-blend-mode:plus-lighter"/>
</g></g>
<text x="1916" y="1119" font-size="84" font-weight="bold" fill="#fff">e</text>
<path d="M1957.4,1166.3 h21 v33 h20 l-29,27 l-29,-27 h17 z" fill="#a8a8a8"/>
<path d="M1953.4,1162.3 h21 v33.2 h20.3 l-28.8,27 l-29,-27 h16.5 z" fill="#06e606"/>
<path d="M2075,1262.8H2207M2075,1578H2207" stroke="#e6e23c" stroke-width="3.5" stroke-dasharray="24,12.4" fill="none"/>
<path d="M2134.2,1297 L2146.2,1266 L2158.2,1297 Z M2134.2,1545 L2146.2,1576 L2158.2,1545 Z" fill="#ffff00"/>
<path d="M2146.2,1305.9V1330.4M2146.2,1342.6V1367.2M2146.2,1379.4V1402.6M2146.2,1414.9V1439.4M2146.2,1451.6V1476.2M2146.2,1488.4V1511.6M2146.2,1523.8V1546" stroke="#ffff00" stroke-width="3.2" fill="none"/>
<text x="2041" y="1436.8" font-size="58" fill="#ffff00" text-anchor="middle">~18 µm</text>
<path d="M2364.7,1257.4H3004.7M2364.7,1432H3004.7" stroke="#e6e23c" stroke-width="3.5" stroke-dasharray="24,12.4" fill="none"/>
<path d="M2546,1292 L2558,1261 L2570,1292 Z M2546,1397 L2558,1428 L2570,1397 Z" fill="#ffff00"/>
<path d="M2558,1300V1324.5M2558,1336.5V1361M2558,1373V1399" stroke="#ffff00" stroke-width="3.2" fill="none"/>
<text x="2439" y="1363.3" font-size="58" fill="#ffff00" text-anchor="middle">~10 µm</text>
<text x="3074" y="1396.7" font-size="58" fill="#f46ef0" text-anchor="middle">Extrusion</text>
<path d="M2723.6,1282 C2752,1290 2770,1320 2777,1352 C2785,1392 2786,1440 2786,1490" stroke="#f46ef0" stroke-width="5" stroke-dasharray="34,20" fill="none"/>
<path d="M2972.2,1282 C2946,1288 2927,1318 2917,1345 C2904,1380 2894,1430 2892,1492" stroke="#f46ef0" stroke-width="5" stroke-dasharray="34,20" fill="none"/>
<path d="M2780,1491 L2786,1514 L2798,1491 Z M2879,1493 L2890.6,1516.2 L2902,1493 Z" fill="#f46ef0"/>
<text x="3104" y="1728" font-size="58" fill="#ffff00" text-anchor="middle">10 µm</text>
<rect x="3032" y="1756.7" width="146.7" height="18.6" fill="#ffff00"/>
<path d="M2232,1698 H2290 M2232,1697 V1760" stroke="#e8e8e8" stroke-width="2.5" fill="none"/>
<path d="M2288,1687 L2320,1698 L2288,1709 Z M2221,1757 L2232,1787 L2243,1757 Z" fill="#fff"/>
<text x="2304" y="1686" font-size="58" fill="#fff" font-style="italic">x</text>
<text x="2182" y="1803" font-size="58" fill="#fff" font-style="italic">z</text>
</svg>
</body></html>
